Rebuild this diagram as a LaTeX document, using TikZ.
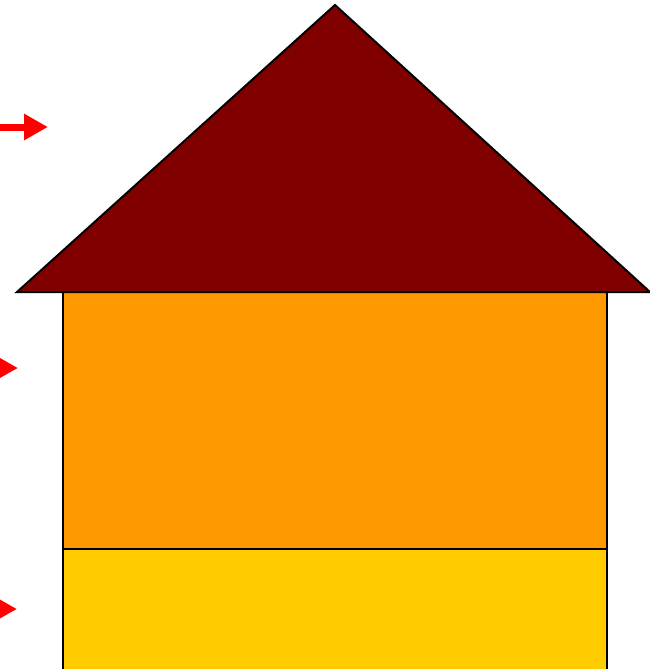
\documentclass[tikz,border=0pt]{standalone}
\usepackage{tikz}
\usetikzlibrary{arrows.meta}
\definecolor{roofred}{HTML}{800000}
\definecolor{floororange}{HTML}{FF9900}
\definecolor{baseyellow}{HTML}{FFCC00}
\definecolor{pointred}{HTML}{FF0000}

\begin{document}
\begin{tikzpicture}[
 x=1pt,y=-1pt,
 wall/.style={draw=black,line width=1.4pt},
 roof/.style={draw=black,line width=2pt,line join=miter,fill=roofred},
 pointer/.style={draw=pointred,line width=7pt,-{Triangle[length=24pt,width=25pt]}}
]
\useasboundingbox (0,0) rectangle (650,669);
\clip (0,0) rectangle (650,669);
\coordinate (apex) at (335,5);
\coordinate (eaveL) at (17,292);
\coordinate (eaveR) at (650,292);
\coordinate (roofTip) at (48,127);
\coordinate (floorTip) at (18,368);
\coordinate (baseTip) at (17,609);
\draw[wall,fill=floororange] (63,292) rectangle (607,549);
\draw[wall,fill=baseyellow] (63,549) rectangle (607,690);
\draw[roof] (eaveL) -- (apex) -- (eaveR) -- cycle;
\draw[pointer] (-30,127) -- (roofTip);
\draw[pointer] (-60,368) -- (floorTip);
\draw[pointer] (-60,609) -- (baseTip);
\end{tikzpicture}
\end{document}
